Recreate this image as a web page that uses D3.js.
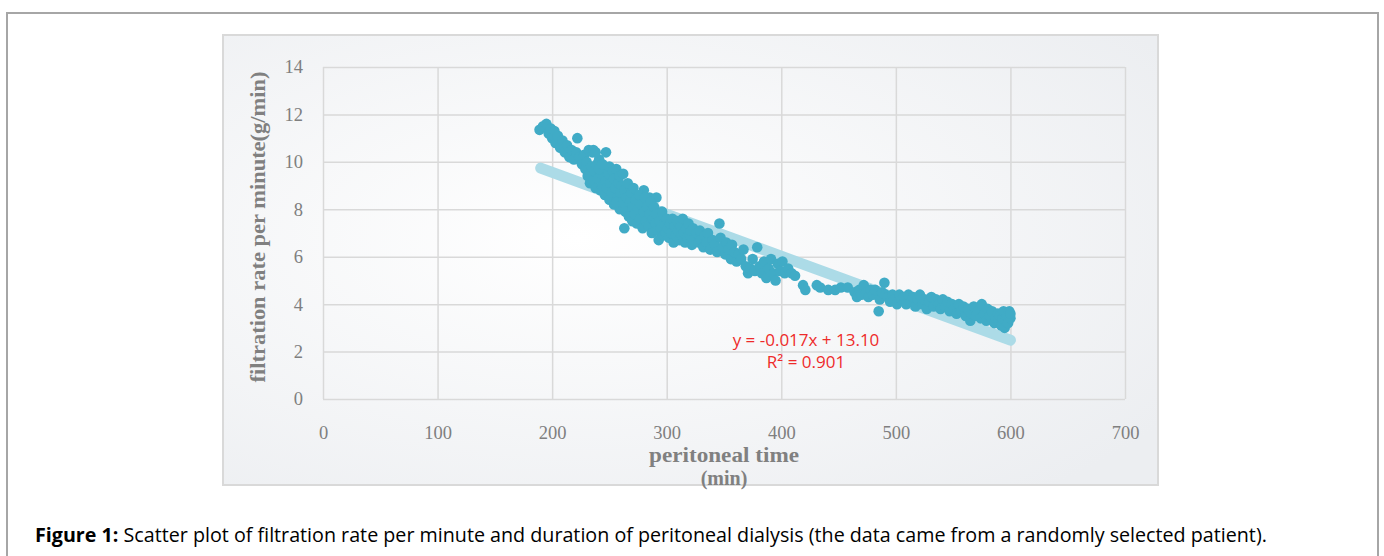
<!DOCTYPE html>
<html>
<head>
<meta charset="utf-8">
<script src="https://cdn.jsdelivr.net/npm/d3@7"></script>
<style>
  body { margin: 0; background: #fff; }
  .tick text { font-family: "Liberation Serif", serif; fill: #7f7f7f; }
</style>
</head>
<body>
<svg id="chart" width="1384" height="556"></svg>
<script>
// data: peritoneal time (min) vs filtration rate (g/min)
var times = [
  189,192,195,197,199,200,202,203,205,207,209,211,213,215,217,219,221,222,224,226,228,229,230,
  231,232,233,234,235,236,237,238,239,240,241,242,243,244,245,246,247,247,248,249,250,250,251,252,253,254,254,255,256,257,258,259,259,260,
  236,238,241,244,256,262,266,272,280,285,291,
  261,262,263,263,264,265,266,267,268,269,270,270,271,272,273,274,275,276,277,278,279,280,281,282,283,284,285,286,287,288,289,290,
  291,292,293,294,295,296,297,298,299,300,301,302,303,304,305,306,307,308,309,310,311,312,313,314,315,316,317,318,319,320,321,322,323,325,326,328,329,330,
  332,333,335,336,338,340,342,344,346,347,349,351,352,354,356,357,359,361,363,365,367,369,
  371,373,375,377,379,381,383,385,387,389,391,393,395,397,399,401,403,406,409,412,
  419,421,431,434,441,447,452,458,464,466,468,470,472,474,476,478,480,482,485,486,488,490,491,
  493,495,497,499,501,503,505,507,509,511,513,515,517,519,521,523,525,527,529,531,533,535,537,539,541,543,545,547,549,551,553,555,557,559,
  561,563,565,566,568,570,572,574,575,577,579,580,582,584,586,587,589,590,591,592,593,594,595,596,597,598,599,600,600
];
var rates = [
  11.35,11.5,11.6,11.2,11.4,11.0,11.3,10.8,11.1,10.6,10.9,10.4,10.7,10.2,10.5,10.1,10.4,11.0,10.2,9.9,10.3,9.7,10.0,
  9.4,10.5,9.1,9.8,10.4,9.2,9.6,8.9,9.9,9.3,10.1,8.8,9.5,9.0,9.7,8.6,10.4,9.2,8.9,9.5,8.4,9.8,9.1,8.7,9.6,8.2,9.3,8.9,9.7,8.5,9.1,8.0,9.4,8.7,
  10.5,10.4,9.7,9.9,8.3,9.5,8.0,8.6,8.8,8.5,8.5,
  9.0,8.3,7.2,8.8,7.9,8.5,9.1,7.7,8.3,8.7,7.5,8.1,8.9,7.8,8.4,7.4,8.0,8.6,7.6,8.2,7.2,7.9,8.5,7.5,8.1,7.3,7.8,8.3,7.0,7.6,8.1,7.4,
  7.8,7.1,6.7,7.5,7.2,7.9,6.9,7.4,7.0,7.6,7.2,6.8,7.4,7.0,7.6,6.6,7.3,6.9,7.5,7.1,6.7,7.3,6.9,7.6,7.0,6.6,7.2,6.8,7.4,6.9,7.1,6.5,7.2,6.8,7.0,6.6,7.1,6.7,
  6.4,6.9,6.6,7.0,6.3,6.7,6.5,6.2,7.4,6.8,6.4,6.1,6.6,6.3,5.9,6.5,6.2,5.8,6.1,5.9,6.3,5.6,
  5.3,5.5,5.9,5.4,6.4,5.6,5.3,5.8,5.1,5.5,5.9,5.3,5.0,5.7,5.4,5.8,5.3,5.5,5.3,5.2,
  4.8,4.6,4.8,4.7,4.6,4.6,4.7,4.7,4.5,4.3,4.6,4.4,4.8,4.5,4.3,4.6,4.4,4.6,3.7,4.2,4.5,4.9,4.4,
  4.3,4.1,4.4,4.2,4.0,4.4,4.2,4.3,4.0,4.4,4.1,4.3,3.9,4.2,4.4,4.0,4.2,3.8,4.1,4.3,3.9,4.2,4.0,3.8,4.2,3.9,4.1,3.7,4.0,3.8,3.6,4.0,3.7,3.9,
  3.5,3.8,3.3,3.6,3.9,3.5,3.7,3.4,4.0,3.6,3.3,3.8,3.5,3.7,3.2,3.4,3.6,3.3,3.5,3.1,3.4,3.7,3.0,3.3,3.5,3.2,3.7,3.4,3.6
];
// linear trend line shown on the figure
var trendSlope = -0.0177;
var trendIntercept = 13.10;
var trendRange = [190, 600];
var trendLabels = ["y = -0.017x + 13.10", "R\u00b2 = 0.901"];

var xTicks = [0, 100, 200, 300, 400, 500, 600, 700];
var yTicks = [0, 2, 4, 6, 8, 10, 12, 14];

(function() {
  var svg = d3.select("#chart");

  // outer figure frame
  svg.append("rect")
      .attr("x", 7).attr("y", 13)
      .attr("width", 1371).attr("height", 600)
      .attr("fill", "none")
      .attr("stroke", "#a6a6a6")
      .attr("stroke-width", 2);

  // chart box with soft gradient
  var defs = svg.append("defs");
  var grad = defs.append("radialGradient")
      .attr("id", "bg")
      .attr("cx", "38%").attr("cy", "45%").attr("r", "75%");
  grad.append("stop").attr("offset", "0%").attr("stop-color", "#ffffff");
  grad.append("stop").attr("offset", "100%").attr("stop-color", "#eceef1");

  svg.append("rect")
      .attr("x", 223).attr("y", 35)
      .attr("width", 935).attr("height", 450)
      .attr("fill", "url(#bg)")
      .attr("stroke", "#d9d9d9")
      .attr("stroke-width", 2);

  var pLeft = 323, pRight = 1125, pTop = 67, pBottom = 399;

  var x = d3.scaleLinear().domain([0, 700]).range([pLeft, pRight]);
  var y = d3.scaleLinear().domain([0, 14]).range([pBottom, pTop]);

  // gridlines + labels
  var gx = svg.append("g")
      .attr("transform", "translate(0," + pBottom + ")")
      .call(d3.axisBottom(x).tickValues(xTicks).tickSize(-(pBottom - pTop)).tickPadding(23));
  var gy = svg.append("g")
      .attr("transform", "translate(" + pLeft + ",0)")
      .call(d3.axisLeft(y).tickValues(yTicks).tickSize(-(pRight - pLeft)).tickPadding(20));

  [gx, gy].forEach(function(g) {
    g.select(".domain").remove();
    g.selectAll(".tick line").attr("stroke", "#d9d9d9").attr("stroke-width", 1.5);
    g.selectAll(".tick text").style("font-size", "18.5px");
  });
  gx.selectAll(".tick text").attr("dy", "0.9em");

  // trend line (drawn under the points)
  svg.append("line")
      .attr("x1", x(trendRange[0]))
      .attr("y1", y(trendIntercept + trendSlope * trendRange[0]))
      .attr("x2", x(trendRange[1]))
      .attr("y2", y(trendIntercept + trendSlope * trendRange[1]))
      .attr("stroke", "#acdbe7")
      .attr("stroke-width", 11)
      .attr("stroke-linecap", "round");

  var points = times.map(function(t, i) { return { t: t, r: rates[i] }; });

  svg.append("g").selectAll("circle")
      .data(points)
    .enter().append("circle")
      .attr("cx", function(d) { return x(d.t); })
      .attr("cy", function(d) { return y(d.r); })
      .attr("r", 5.3)
      .attr("fill", "#40abc6");

  // trend equation
  svg.selectAll(".eq")
      .data(trendLabels)
    .enter().append("text")
      .attr("class", "eq")
      .attr("x", 806)
      .attr("y", function(d, i) { return 346 + i * 22; })
      .attr("text-anchor", "middle")
      .style("font-family", "'Open Sans', sans-serif")
      .style("font-size", "17px")
      .attr("fill", "#ee2b2b")
      .text(function(d) { return d; });

  // axis titles
  svg.append("text")
      .attr("transform", "translate(265,227) rotate(-90)")
      .attr("text-anchor", "middle")
      .attr("textLength", 311)
      .attr("lengthAdjust", "spacingAndGlyphs")
      .style("font-family", "'Liberation Serif', serif")
      .style("font-weight", "bold")
      .style("font-size", "21px")
      .attr("fill", "#808080")
      .text("filtration rate per minute(g/min)");

  svg.append("text")
      .attr("x", 724).attr("y", 462)
      .attr("text-anchor", "middle")
      .attr("textLength", 150)
      .attr("lengthAdjust", "spacingAndGlyphs")
      .style("font-family", "'Liberation Serif', serif")
      .style("font-weight", "bold")
      .style("font-size", "20px")
      .attr("fill", "#808080")
      .text("peritoneal time");

  svg.append("text")
      .attr("x", 724).attr("y", 485)
      .attr("text-anchor", "middle")
      .style("font-family", "'Liberation Serif', serif")
      .style("font-weight", "bold")
      .style("font-size", "20px")
      .attr("fill", "#808080")
      .text("(min)");

  // caption
  var cap = svg.append("text")
      .attr("x", 35).attr("y", 542)
      .style("font-family", "'Open Sans', sans-serif")
      .style("font-size", "19.7px")
      .attr("fill", "#000");
  cap.append("tspan").style("font-weight", "bold").text("Figure 1:");
  cap.append("tspan").text(" Scatter plot of filtration rate per minute and duration of peritoneal dialysis (the data came from a randomly selected patient).");
})();
</script>
</body>
</html>
